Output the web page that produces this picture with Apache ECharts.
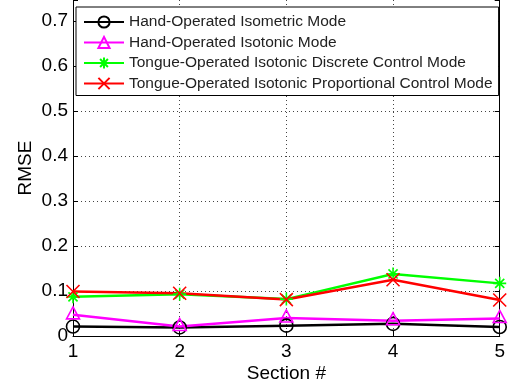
<!DOCTYPE html>
<html>
<head>
<meta charset="utf-8">
<script src="https://cdn.jsdelivr.net/npm/echarts@6/dist/echarts.min.js"></script>
<style>
  html, body { margin: 0; padding: 0; background: #fff; }
  #chart { width: 508px; height: 389px; }
</style>
</head>
<body>
<div id="chart"></div>
<script>
// Section numbers along the x axis
const sections = ['1', '2', '3', '4', '5'];

// RMSE per section for each control mode
const handIsometric = [0.021, 0.019, 0.023, 0.027, 0.020];
const handIsotonic = [0.047, 0.021, 0.040, 0.034, 0.039];
const tongueDiscrete = [0.087, 0.093, 0.082, 0.138, 0.117];
const tongueProportional = [0.099, 0.095, 0.081, 0.125, 0.080];

const seriesNames = [
  'Hand-Operated Isometric Mode',
  'Hand-Operated Isotonic Mode',
  'Tongue-Operated Isotonic Discrete Control Mode',
  'Tongue-Operated Isotonic Proportional Control Mode'
];

// y axis range and tick step (the axis runs a little past the 0.7 tick)
const yMin = 0;
const yMax = 0.747;
const yStep = 0.1;

const FONT = 'Liberation Sans, Arial, Helvetica, sans-serif';

const asteriskPath = 'path://M0,-10L0,10M-10,0L10,0M-7,-7L7,7M-7,7L7,-7';
const crossPath = 'path://M-10,-10L10,10M-10,10L10,-10';

function tickLabel(v) {
  const k = Math.round(v / yStep);
  if (Math.abs(v - k * yStep) > 1e-6) return '';
  return k === 0 ? '0' : (k * yStep).toFixed(1);
}

function makeSeries(name, data, color, symbol, size, extra) {
  return Object.assign({
    name: name,
    type: 'line',
    data: data,
    symbol: symbol,
    symbolSize: size,
    color: color,
    lineStyle: { color: color, width: 2.5 },
    itemStyle: { color: 'rgba(0,0,0,0)', borderColor: color, borderWidth: 1.6 },
    emphasis: { disabled: true },
    animation: false
  }, extra || {});
}

const chart = echarts.init(document.getElementById('chart'), null, { renderer: 'canvas' });

chart.setOption({
  backgroundColor: '#fff',
  animation: false,
  grid: { left: 73, right: 5, top: 0, bottom: 53, containLabel: false },
  legend: {
    orient: 'vertical',
    left: 76,
    top: 7,
    padding: [7, 6, 4, 7],
    itemGap: 4.5,
    itemWidth: 40,
    itemHeight: 14,
    backgroundColor: '#fff',
    borderColor: '#000',
    borderWidth: 1,
    textStyle: { fontFamily: FONT, fontSize: 15.5, color: '#222' },
    data: seriesNames
  },
  xAxis: {
    type: 'category',
    data: sections,
    boundaryGap: false,
    name: 'Section #',
    nameLocation: 'middle',
    nameGap: 28,
    nameMoveOverlap: false,
    nameTextStyle: { fontFamily: FONT, fontSize: 19, color: '#000' },
    axisLine: { lineStyle: { color: '#000', width: 1 } },
    axisTick: { inside: true, length: 5, lineStyle: { color: '#000' } },
    axisLabel: { fontFamily: FONT, fontSize: 19, color: '#000', margin: 6 },
    splitLine: { show: true, lineStyle: { color: '#444', type: [1, 3], width: 1 } }
  },
  yAxis: [
    {
      type: 'value',
      min: yMin,
      max: yMax,
      interval: yStep,
      name: 'RMSE',
      nameLocation: 'middle',
      nameGap: 38,
      nameMoveOverlap: false,
      nameRotate: 90,
      nameTextStyle: { fontFamily: FONT, fontSize: 19, color: '#000' },
      axisLine: { show: true, lineStyle: { color: '#000', width: 1 } },
      axisTick: { show: true, inside: true, length: 5, lineStyle: { color: '#000' } },
      axisLabel: { fontFamily: FONT, fontSize: 19, color: '#000', margin: 5, formatter: tickLabel },
      splitLine: { show: true, showMaxLine: false, lineStyle: { color: '#444', type: [1, 3], width: 1 } }
    },
    {
      type: 'value',
      position: 'right',
      min: yMin,
      max: yMax,
      interval: yStep,
      axisLine: { show: true, lineStyle: { color: '#000', width: 1 } },
      axisTick: { show: true, inside: true, length: 5, lineStyle: { color: '#000' } },
      axisLabel: { show: false },
      splitLine: { show: false }
    }
  ],
  series: [
    makeSeries(seriesNames[0], handIsometric, '#000000', 'circle', 13),
    makeSeries(seriesNames[1], handIsotonic, '#ff00ff', 'triangle', [13, 12], { symbolOffset: [0, -2] }),
    makeSeries(seriesNames[2], tongueDiscrete, '#00ff00', asteriskPath, 13),
    makeSeries(seriesNames[3], tongueProportional, '#ff0000', crossPath, 13)
  ]
});
</script>
</body>
</html>
